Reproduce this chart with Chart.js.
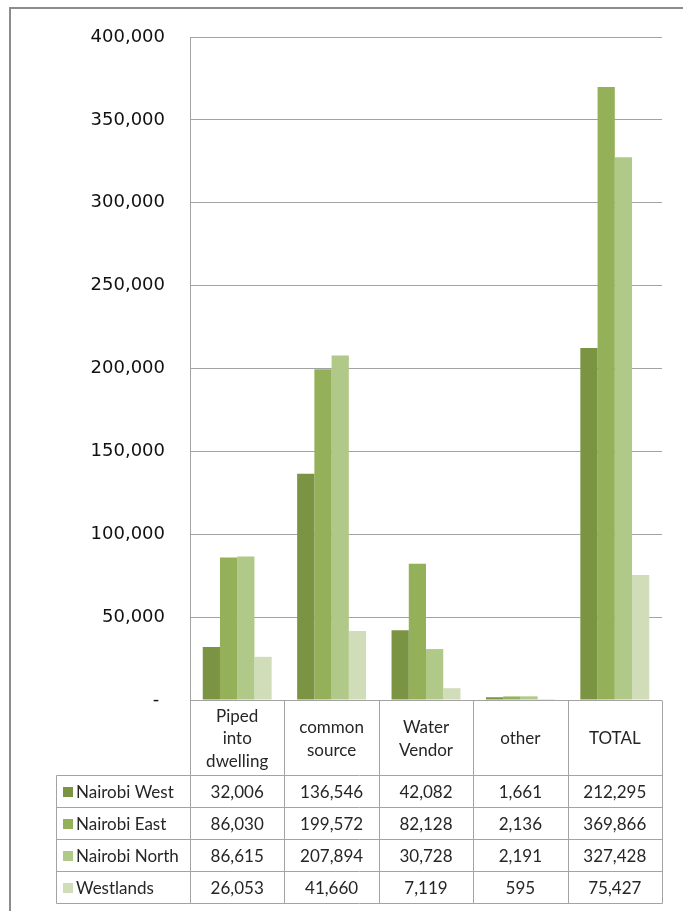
<!DOCTYPE html>
<html>
<head>
<meta charset="utf-8">
<script src="https://cdn.jsdelivr.net/npm/chart.js@4"></script>
<style>
  html, body { margin: 0; padding: 0; background: #ffffff; }
  #wrap { position: relative; width: 683px; height: 911px; }
</style>
</head>
<body>
<div id="wrap"><canvas id="c"></canvas></div>
<script>
// ---- data ----
const categories = [['Piped', 'into', 'dwelling'], ['common', 'source'], ['Water', 'Vendor'], ['other'], ['TOTAL']];
const seriesNames = ['Nairobi West', 'Nairobi East', 'Nairobi North', 'Westlands'];
const nairobiWest = [32006, 136546, 42082, 1661, 212295];
const nairobiEast = [86030, 199572, 82128, 2136, 369866];
const nairobiNorth = [86615, 207894, 30728, 2191, 327428];
const westlands = [26053, 41660, 7119, 595, 75427];
const yTicks = [0, 50000, 100000, 150000, 200000, 250000, 300000, 350000, 400000];

const seriesColors = ['#7a9444', '#94b058', '#b0c888', '#d0ddb8'];
const seriesValues = [nairobiWest, nairobiEast, nairobiNorth, westlands];

const TABLE_FONT = '17px Lato';
const LINE = '#a3a3a3';

const fmt = v => v.toLocaleString('en-US');

const tablePlugin = {
  id: 'dataTable',
  afterDraw(chart) {
    const ctx = chart.ctx;
    const area = chart.chartArea;
    const xs = chart.scales.x;
    const n = categories.length;
    const colW = (area.right - area.left) / n;
    const bounds = [];
    for (let i = 0; i <= n; i++) bounds.push(Math.round(area.left + i * colW) + 0.5);
    const top = Math.round(area.bottom) + 0.5;
    const headerBottom = 775.5;
    const rowH = 32;
    const legendLeft = 56.5;
    const tableBottom = headerBottom + rowH * seriesNames.length;

    ctx.save();
    // outer frame
    ctx.strokeStyle = '#8c8c8c';
    ctx.lineWidth = 2;
    ctx.beginPath();
    ctx.moveTo(10, 911);
    ctx.lineTo(10, 8);
    ctx.lineTo(683, 8);
    ctx.stroke();

    // table lines
    ctx.strokeStyle = LINE;
    ctx.lineWidth = 1;
    ctx.beginPath();
    bounds.forEach(x => { ctx.moveTo(x, top); ctx.lineTo(x, tableBottom); });
    ctx.moveTo(legendLeft, headerBottom); ctx.lineTo(legendLeft, tableBottom);
    for (let r = 0; r <= seriesNames.length; r++) {
      const y = headerBottom + r * rowH;
      ctx.moveTo(legendLeft, y); ctx.lineTo(bounds[n], y);
    }
    ctx.stroke();

    // header labels
    ctx.font = TABLE_FONT;
    ctx.fillStyle = '#262626';
    ctx.textAlign = 'center';
    ctx.textBaseline = 'middle';
    const lh = 22.5;
    const hc = (top + headerBottom) / 2;
    categories.forEach((lines, i) => {
      const cx = xs.getPixelForValue(i);
      const y0 = hc - (lines.length - 1) * lh / 2;
      lines.forEach((t, k) => ctx.fillText(t, cx, y0 + k * lh + 1));
    });

    // rows
    seriesNames.forEach((name, r) => {
      const cy = headerBottom + r * rowH + rowH / 2;
      ctx.fillStyle = seriesColors[r];
      ctx.fillRect(63, Math.round(cy - 5), 10, 10);
      ctx.fillStyle = '#262626';
      ctx.textAlign = 'left';
      ctx.fillText(name, 76, cy + 1);
      ctx.textAlign = 'center';
      seriesValues[r].forEach((v, i) => {
        ctx.fillText(fmt(v), xs.getPixelForValue(i), cy + 1);
      });
    });
    ctx.restore();
  }
};

new Chart(document.getElementById('c'), {
  type: 'bar',
  data: {
    labels: categories,
    datasets: seriesNames.map((name, i) => ({
      label: name,
      data: seriesValues[i],
      backgroundColor: seriesColors[i],
      borderWidth: 0,
      categoryPercentage: 0.73,
      barPercentage: 1.0
    }))
  },
  options: {
    responsive: true,
    maintainAspectRatio: false,
    animation: false,
    layout: { padding: { top: 37, right: 21, bottom: 211, left: 0 } },
    plugins: { legend: { display: false }, tooltip: { enabled: false } },
    scales: {
      x: { display: false },
      y: {
        min: 0,
        max: 400000,
        afterFit(scale) { scale.width = 190; },
        afterBuildTicks(scale) { scale.ticks = yTicks.map(v => ({ value: v })); },
        grid: { color: LINE, drawTicks: false, lineWidth: 1 },
        border: { display: true, color: LINE, width: 1 },
        ticks: {
          padding: 25,
          color: '#111111',
          font: { family: 'DejaVu Sans', size: 18 },
          callback: v => (v === 0 ? '- ' : fmt(v))
        }
      }
    }
  },
  plugins: [tablePlugin]
});
</script>
</body>
</html>
